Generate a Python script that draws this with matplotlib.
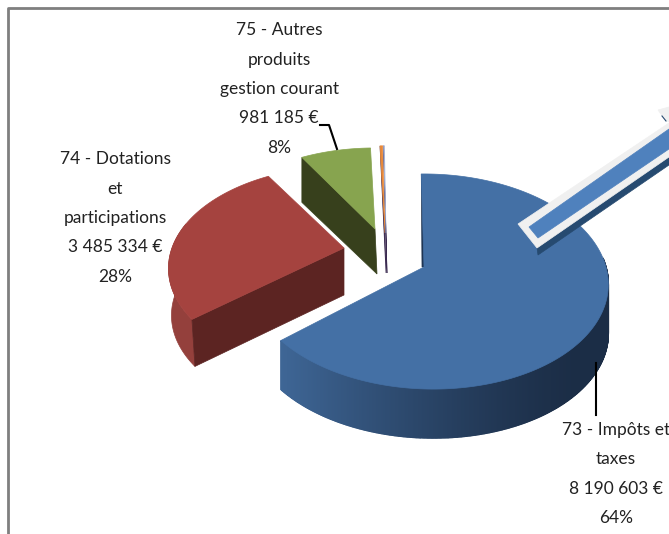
import matplotlib
matplotlib.use('Agg')
import matplotlib.pyplot as plt
from matplotlib.patches import Polygon
from matplotlib.colors import to_rgb
import numpy as np

plt.rcParams['font.family'] = ['Lato', 'DejaVu Sans']

# slice values (the two thin slices have no label, estimated)
names = ['73 - Impôts et\ntaxes', '74 - Dotations\net\nparticipations',
         '75 - Autres\nproduits\ngestion courant', '', '']
values = [8190603, 3485334, 981185, 60000, 20000]
percents = ['64%', '28%', '8%', '', '']
top_colors = ['#4470a5', '#a5433f', '#87a44f', '#e8893a', '#a9b4d4']
side_colors = ['#1f3553', '#94403c', '#37401c', '#3a2a50', '#3a2a50']
cut_colors = ['#1f3553', '#5c2422', '#37401c', '#3a2a50', '#3a2a50']

# where each exploded slice ends up, in pixels
apex_x = [424, 344, 375, 385, 386]
apex_y = [267, 248, 229, 233, 233]
radius_x = [178, 172, 166, 100, 100]
radius_y = [105.6, 98, 92, 99, 99]
depth = [49, 47, 45, 40, 40]
persp = [0.135, 0.2, 0.135, 0.135, 0.135]
skew = [4, 0, 0, 0, 0]
nudge = [0, 0, 1.5, 0, 0]

label_x = [616, 115, 279]
label_y = [474, 218, 89]

fig = plt.figure(figsize=(6.69, 5.34), dpi=100)
ax = fig.add_axes([0, 0, 1, 1])
ax.set_xlim(0, 669)
ax.set_ylim(534, 0)
ax.axis('off')


def rim(i, t):
    t = np.radians(t + nudge[i])
    w = 1 + persp[i] * np.cos(t)
    x = apex_x[i] + (radius_x[i] * np.sin(t) + skew[i] * (1 - np.cos(t))) / w
    return x, apex_y[i] - radius_y[i] * np.cos(t) / w


def face(pts, color, z, lw=0.5):
    ax.add_patch(Polygon(pts, closed=True, facecolor=color, edgecolor=color, lw=lw, zorder=z))


# chart border
ax.plot([8, 8, 669], [534, 8, 8], color='#7f7f7f', lw=2, zorder=1)

sweep = np.array(values) / sum(values) * 360
starts = -1 + np.concatenate([[0], np.cumsum(sweep)[:-1]])
order = [2, 3, 4, 1, 0]

for n, i in enumerate(order):
    z = 2 + n
    t0, t1 = starts[i], starts[i] + sweep[i]
    ts = np.linspace(t0, t1, 200)
    xs, ys = rim(i, ts)
    ax_, ay_ = apex_x[i], apex_y[i]
    d = depth[i]
    x0, y0 = rim(i, t0)

    if i == 0:
        # gradient along the outer wall, light at left, dark at right
        wall = np.linspace(t1, 85, 400)
        c0 = np.array(to_rgb('#1b2d46'))
        c1 = np.array(to_rgb('#3f6797'))
        wx, wy = rim(i, wall)
        for k in range(len(wall) - 1):
            f = np.clip(1 - (wx[k] - 278) / 300, 0, 1)
            col = c0 + (c1 - c0) * f ** 1.3
            face([(wx[k], wy[k]), (wx[k + 1], wy[k + 1]),
                  (wx[k + 1], wy[k + 1] + d), (wx[k], wy[k] + d)], col, z, lw=1)
        # thin dark sliver on the inner edge
        face([(x0, y0), (ax_ + 2, ay_), (ax_ - 2, ay_)], '#1f3553', z)
    elif i == 1:
        wall = ts[ts < 285]
        wx, wy = rim(i, wall)
        face(list(zip(wx, wy)) + list(zip(wx[::-1] + 3, wy[::-1] + d)), side_colors[i], z)
        face([(ax_, ay_), (x0, y0), (x0 + 3, y0 + d), (ax_, ay_ + d)], cut_colors[i], z + 0.2)
    elif i == 2:
        face([(ax_, ay_), (x0, y0), (x0, y0 + d), (ax_ + 2, ay_ + d)], cut_colors[i], z)
    else:
        face([(ax_, ay_), (x0, y0), (ax_ + 1, ay_ + d)], cut_colors[i], z)

    # top of the slice
    face([(ax_, ay_)] + list(zip(xs, ys)), top_colors[i], z + 0.5)

# leader lines
ax.plot([320, 329, 337], [125, 125, 149], color='black', lw=1.5, zorder=12)
ax.plot([596, 596], [363, 415], color='black', lw=1.5, zorder=12)

# big arrow coming from the right edge
face([(537, 248), (538, 255), (669, 165), (669, 150)], '#264a70', 13)
face([(518, 224), (537, 248), (669, 157), (669, 123)], '#f0f0f0', 14)
face([(529, 227), (538, 238), (669, 149), (669, 129)], '#4f81bd', 15)
face([(658, 110), (669, 107), (669, 122), (665, 120)], '#f0f0f0', 14)
ax.plot([662, 666], [116, 121], color='#264a70', lw=0.8, zorder=15)

# labels
for i in range(3):
    val = f'{values[i]:,}'.replace(',', ' ') + ' €'
    ax.text(label_x[i], label_y[i], names[i] + '\n' + val + '\n' + percents[i],
            ha='center', va='center', fontsize=12.5, color='#222222',
            linespacing=2.03, zorder=20)

plt.savefig('out.png', dpi=100)
